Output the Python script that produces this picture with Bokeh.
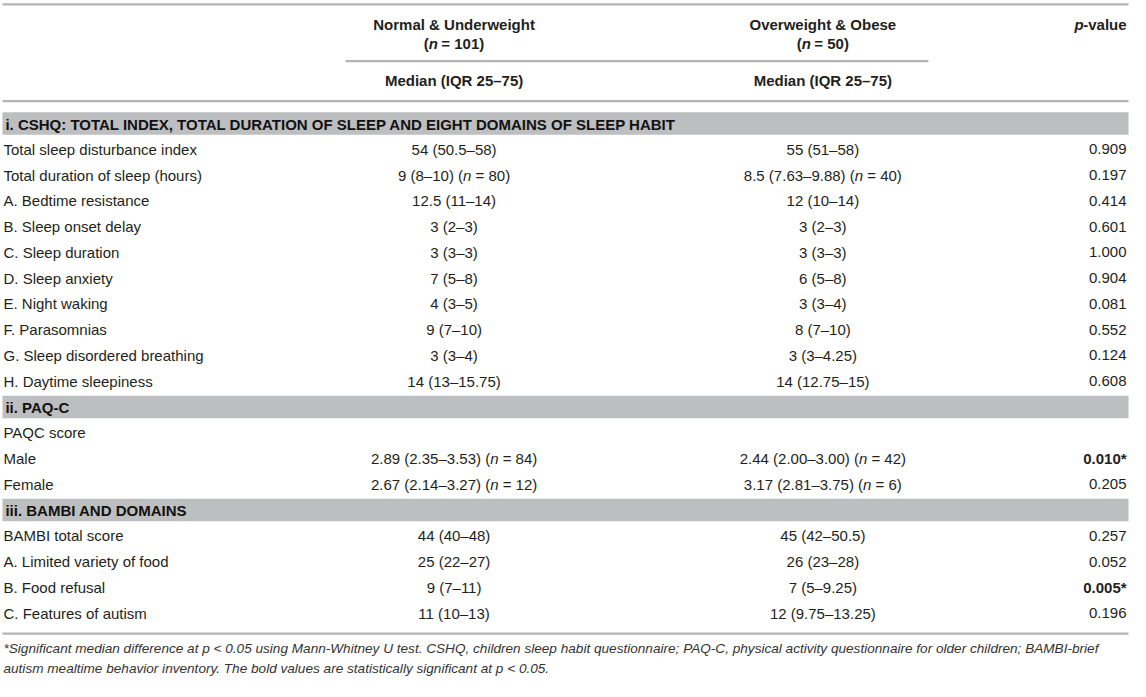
from bokeh.plotting import figure
from bokeh.models import Range1d, ColumnDataSource
from bokeh.core.properties import value
from bokeh.embed import file_html
from bokeh.resources import INLINE

# ---------------- data ----------------
group_names = ["Normal & Underweight", "Overweight & Obese"]
group_n = ["101", "50"]
stat_label = "Median (IQR 25–75)"

sections = [
    "i. CSHQ: TOTAL INDEX, TOTAL DURATION OF SLEEP AND EIGHT DOMAINS OF SLEEP HABIT",
    "ii. PAQ-C",
    "iii. BAMBI AND DOMAINS",
]

cshq_items = ["Total sleep disturbance index", "Total duration of sleep (hours)",
              "A. Bedtime resistance", "B. Sleep onset delay", "C. Sleep duration",
              "D. Sleep anxiety", "E. Night waking", "F. Parasomnias",
              "G. Sleep disordered breathing", "H. Daytime sleepiness"]
cshq_normal = ["54 (50.5–58)", "9 (8–10) (n = 80)", "12.5 (11–14)", "3 (2–3)", "3 (3–3)",
               "7 (5–8)", "4 (3–5)", "9 (7–10)", "3 (3–4)", "14 (13–15.75)"]
cshq_obese = ["55 (51–58)", "8.5 (7.63–9.88) (n = 40)", "12 (10–14)", "3 (2–3)", "3 (3–3)",
              "6 (5–8)", "3 (3–4)", "8 (7–10)", "3 (3–4.25)", "14 (12.75–15)"]
cshq_p = ["0.909", "0.197", "0.414", "0.601", "1.000", "0.904", "0.081", "0.552", "0.124", "0.608"]

paqc_items = ["PAQC score", "Male", "Female"]
paqc_normal = ["", "2.89 (2.35–3.53) (n = 84)", "2.67 (2.14–3.27) (n = 12)"]
paqc_obese = ["", "2.44 (2.00–3.00) (n = 42)", "3.17 (2.81–3.75) (n = 6)"]
paqc_p = ["", "0.010*", "0.205"]

bambi_items = ["BAMBI total score", "A. Limited variety of food", "B. Food refusal", "C. Features of autism"]
bambi_normal = ["44 (40–48)", "25 (22–27)", "9 (7–11)", "11 (10–13)"]
bambi_obese = ["45 (42–50.5)", "26 (23–28)", "7 (5–9.25)", "12 (9.75–13.25)"]
bambi_p = ["0.257", "0.052", "0.005*", "0.196"]

footnote = [
    "*Significant median difference at p < 0.05 using Mann-Whitney U test. CSHQ, children sleep habit "
    "questionnaire; PAQ-C, physical activity questionnaire for older children; BAMBI-brief",
    "autism mealtime behavior inventory. The bold values are statistically significant at p < 0.05.",
]

# ---------------- layout ----------------
W, H = 1130, 681
XR, YR = 1146, 697
sx = W / XR

FONT = "Liberation Sans"
FS = 15
TXT = "#231f20"
LINE = "#b4b4b4"
BAND = "#bdbec0"
NBSP = "\u00a0"

COL1_X = 3
COL2_CX = 460
COL3_CX = 834
PV_RX = 1142
ROW0 = 126
PITCH = 26.37

AW = {'0': 556, '1': 556, '2': 556, '3': 556, '4': 556, '5': 556, '6': 556, '7': 556, '8': 556,
      '9': 556, ' ': 278, NBSP: 278, '(': 333, ')': 333, '–': 556, '.': 278, '=': 584, 'n': 556,
      '-': 333, ',': 278, 'v': 500, 'a': 556, 'l': 222, 'u': 556, 'e': 556, '*': 389}


def tw(s, size=FS):
    return sum(AW.get(c, 556) for c in s) * size / 1000 / sx


p = figure(width=W, height=H, x_range=Range1d(0, XR), y_range=Range1d(YR, 0),
           output_backend="svg", toolbar_location=None, min_border=0,
           x_axis_location=None, y_axis_location=None)
p.grid.visible = False
p.outline_line_color = None
p.background_fill_color = "white"
p.border_fill_color = "white"

texts = []


def add(x, y, t, align="left", style="normal", size=FS, color=TXT, font=FONT):
    texts.append(dict(x=x, y=y, t=t, align=align, style=style, size=size, color=color, font=font))


def add_n_center(cx, y, pre, n_label, post, style="normal", nstyle="italic"):
    post = post.replace(" ", NBSP)
    total = tw(pre) + tw(n_label) + tw(post)
    x0 = cx - total / 2
    add(x0, y, pre, style=style)
    add(x0 + tw(pre), y, n_label, style=nstyle)
    add(x0 + tw(pre) + tw(n_label), y, post, style=style)


def add_mixed_center(cx, y, s, style="normal"):
    if "(n = " in s:
        i = s.index("(n = ") + 1
        add_n_center(cx, y, s[:i], "n", s[i + 1:], style=style)
    else:
        add(cx, y, s, align="center", style=style)


# header
hl1, hl2, hl3 = 25, 44, 82
for cx, name, n in zip([COL2_CX, COL3_CX], group_names, group_n):
    add(cx, hl1, name, align="center", style="bold")
    add_n_center(cx, hl2, "(", "n", " = " + n + ")", style="bold", nstyle="bold italic")
    add(cx, hl3, stat_label, align="center", style="bold")
add(PV_RX, hl1, "-value", align="right", style="bold")
add(PV_RX - tw("-value") * 1.05, hl1, "p", align="right", style="bold italic")

# rules
seg_x0 = [2, 350, 2, 2]
seg_x1 = [1144, 941, 1144, 1144]
seg_y = [4, 62, 103, 648]
p.segment(x0=seg_x0, y0=seg_y, x1=seg_x1, y1=seg_y, line_color=LINE, line_width=2.2)

# body rows
blocks = [
    (sections[0], cshq_items, cshq_normal, cshq_obese, cshq_p),
    (sections[1], paqc_items, paqc_normal, paqc_obese, paqc_p),
    (sections[2], bambi_items, bambi_normal, bambi_obese, bambi_p),
]
band_y = []
k = 0
for sec, items, v1, v2, pv in blocks:
    y = ROW0 + PITCH * k
    band_y.append(y)
    add(COL1_X + 2, y + 0.5, sec, style="bold", color="#111111")
    k += 1
    for it, a, b, pvv in zip(items, v1, v2, pv):
        y = ROW0 + PITCH * k
        add(COL1_X, y, it)
        if a:
            add_mixed_center(COL2_CX, y, a)
        if b:
            add_mixed_center(COL3_CX, y, b)
        if pvv:
            add(PV_RX, y, pvv, align="right", style="bold" if pvv.endswith("*") else "normal")
        k += 1

p.quad(left=[2] * len(band_y), right=[1144] * len(band_y),
       top=[y - 11.5 for y in band_y], bottom=[y + 11.5 for y in band_y],
       fill_color=BAND, line_color=None)

# footnote
add(COL1_X, 663, footnote[0], style="italic", size=13.6, color="#333333")
add(COL1_X, 684, footnote[1], style="italic", size=13.6, color="#333333")

# draw texts grouped by style
groups = {}
for d in texts:
    key = (d["align"], d["style"], d["size"], d["color"], d["font"])
    groups.setdefault(key, []).append(d)
for (align, style, size, color, font), ds in groups.items():
    src = ColumnDataSource(dict(x=[d["x"] for d in ds], y=[d["y"] for d in ds], t=[d["t"] for d in ds]))
    p.text(x="x", y="y", text="t", source=src, text_align=align, text_baseline="middle",
           text_font=value(font), text_font_style=style, text_font_size=value(f"{size}px"),
           text_color=color)

open("out.html", "w").write(file_html(p, INLINE))
